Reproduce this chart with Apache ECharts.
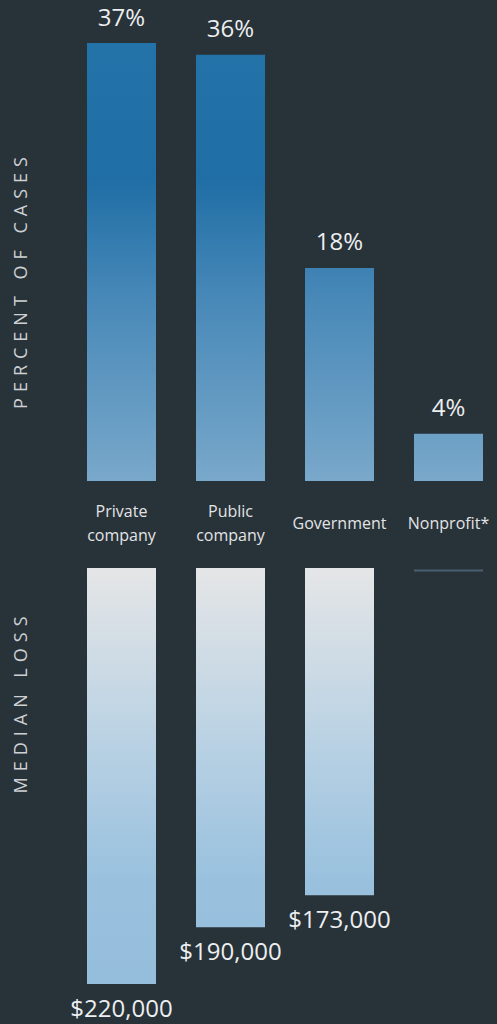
<!DOCTYPE html>
<html>
<head>
<meta charset="utf-8">
<style>
html,body{margin:0;padding:0;background:#283239;overflow:hidden;}
#c{width:503px;height:1024px;}
</style>
<script src="https://cdn.jsdelivr.net/npm/echarts@6/dist/echarts.min.js"></script>
</head>
<body>
<div id="c"></div>
<script>
const categories = ['Private\ncompany', 'Public\ncompany', 'Government', 'Nonprofit*'];
const percentCases = [37, 36, 18, 4];
const medianLoss = [220000, 190000, 173000, null];
const noDataCategories = ['Nonprofit*'];
const axisTitles = ['PERCENT OF CASES', 'MEDIAN LOSS'];

const chart = echarts.init(document.getElementById('c'), null, {renderer: 'svg'});
const font = 'Open Sans';
const topGrad = new echarts.graphic.LinearGradient(0, 43, 0, 481, [
  {offset: 0, color: '#2373a9'},
  {offset: 0.31, color: '#1f6ea5'},
  {offset: 0.6, color: '#4a8ab9'},
  {offset: 1, color: '#79a8ca'}
], true);
const botGrad = new echarts.graphic.LinearGradient(0, 568, 0, 984, [
  {offset: 0, color: '#e5e6e7'},
  {offset: 0.45, color: '#b6d0e3'},
  {offset: 0.75, color: '#99c1de'},
  {offset: 1, color: '#95bedc'}
], true);

chart.setOption({
  backgroundColor: '#283239',
  animation: false,
  grid: [
    {left: 67, right: 0, top: 43, height: 438},
    {left: 67, right: 0, top: 568, height: 416}
  ],
  xAxis: [
    {gridIndex: 0, type: 'category', data: categories,
     axisLine: {show: false}, axisTick: {show: false},
     axisLabel: {color: '#e2e4e5', fontFamily: font, fontSize: 16, lineHeight: 24,
                 margin: 42, verticalAlign: 'middle', interval: 0}},
    {gridIndex: 1, type: 'category', data: categories,
     axisLine: {show: false}, axisTick: {show: false}, axisLabel: {show: false}}
  ],
  yAxis: [
    {gridIndex: 0, type: 'value', min: 0, max: 37, show: false},
    {gridIndex: 1, type: 'value', min: 0, max: 220000, inverse: true, show: false}
  ],
  graphic: [
    {type: 'text', x: 20, y: 280, rotation: Math.PI / 2,
     style: {text: axisTitles[0], fill: '#cdd1d4', font: '18px "Open Sans"',
             align: 'center', verticalAlign: 'middle'}},
    {type: 'text', x: 20, y: 702, rotation: Math.PI / 2,
     style: {text: axisTitles[1], fill: '#cdd1d4', font: '18px "Open Sans"',
             align: 'center', verticalAlign: 'middle'}}
  ],
  series: [
    {type: 'bar', xAxisIndex: 0, yAxisIndex: 0, barWidth: 69,
     data: percentCases,
     itemStyle: {color: topGrad},
     label: {show: true, position: 'top', distance: 15, color: '#eceeef',
             fontFamily: font, fontSize: 24, formatter: '{c}%'}},
    {type: 'bar', xAxisIndex: 1, yAxisIndex: 1, barWidth: 69,
     data: medianLoss,
     itemStyle: {color: botGrad},
     label: {show: true, position: 'bottom', distance: 11, color: '#eceeef',
             fontFamily: font, fontSize: 24,
             formatter: function (p) { return '$' + p.value.toLocaleString('en-US'); }}},
    {type: 'custom', xAxisIndex: 1, yAxisIndex: 1, silent: true,
     data: noDataCategories.map(function (c) { return [c, 0]; }),
     renderItem: function (params, api) {
       const p = api.coord([api.value(0), api.value(1)]);
       const w = 69;
       return {type: 'line',
               shape: {x1: p[0] - w / 2, y1: p[1] + 2.5, x2: p[0] + w / 2, y2: p[1] + 2.5},
               style: {stroke: '#4a6070', lineWidth: 2}};
     }}
  ]
});

function spaceTitles() {
  document.querySelectorAll('#c svg text').forEach(function (t) {
    if (axisTitles.indexOf(t.textContent) >= 0) {
      t.style.letterSpacing = '6px';
    }
  });
}
spaceTitles();
chart.on('finished', spaceTitles);
</script>
</body>
</html>
